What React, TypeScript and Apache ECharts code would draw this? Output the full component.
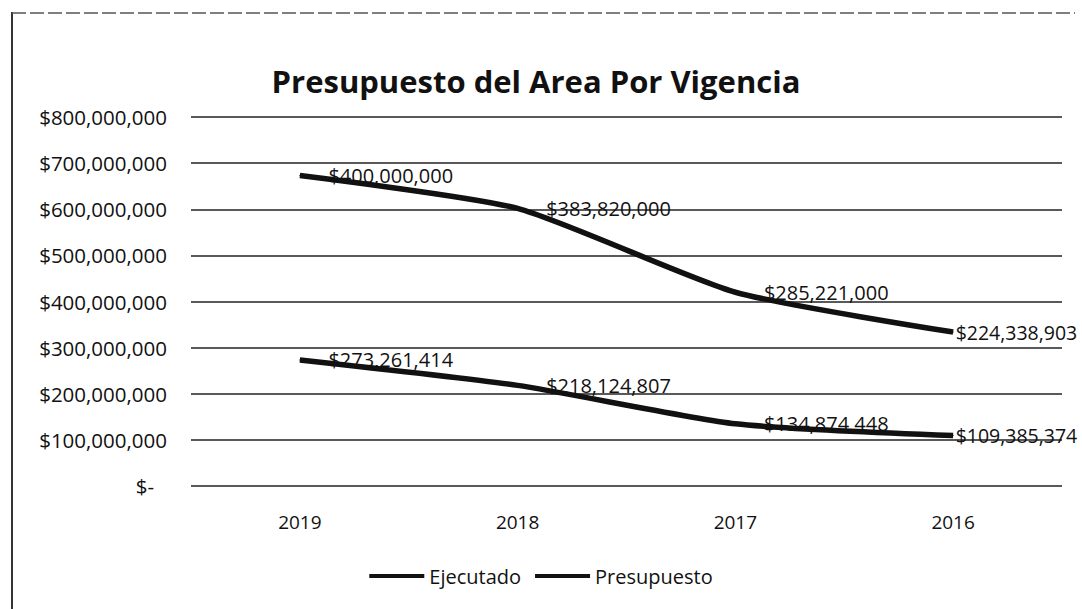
import React, { useEffect, useRef } from "react";
import * as echarts from "echarts";

const title = "Presupuesto del Area Por Vigencia";
const categories = ["2019", "2018", "2017", "2016"];
const ejecutado = [273261414, 218124807, 134874448, 109385374];
const presupuesto = [400000000, 383820000, 285221000, 224338903];
const seriesNames = ["Ejecutado", "Presupuesto"];
const yMax = 800000000;
const yInterval = 100000000;

const FONT = "'Open Sans', 'Noto Sans', sans-serif";
const fmtMoney = (v: number) => "$" + Math.round(v).toLocaleString("en-US");

export default function App() {
  const ref = useRef<HTMLDivElement>(null);
  useEffect(() => {
    if (!ref.current) return;
    const chart = echarts.init(ref.current, null, { renderer: "svg" });
    const lineColor = "#111111";
    const label = {
      show: true,
      position: "right" as const,
      distance: 28,
      color: "#111",
      fontFamily: FONT,
      fontSize: 20,
      formatter: (p: any) => fmtMoney(p.value),
    };
    // last point's label sits tight against the point (kept inside the chart, as Excel does)
    const withLabels = (arr: number[]) =>
      arr.map((v, i) =>
        i === arr.length - 1 ? { value: v, label: { distance: 2, fontSize: 19.5 } } : v
      );
    chart.setOption({
      animation: false,
      backgroundColor: "#ffffff",
      title: {
        text: title,
        left: 531,
        textAlign: "center",
        top: 60,
        textStyle: { fontFamily: FONT, fontSize: 31, fontWeight: "bold", color: "#111" },
      },
      legend: {
        data: seriesNames,
        bottom: 18,
        left: "center",
        icon: "rect",
        itemWidth: 55,
        itemHeight: 4,
        itemGap: 14,
        textStyle: { fontFamily: FONT, fontSize: 20, color: "#111" },
      },
      grid: { left: 191, right: 20, top: 117, bottom: 123, containLabel: false },
      xAxis: {
        type: "category",
        data: categories,
        boundaryGap: true,
        axisLine: { show: false },
        axisTick: { show: false },
        axisLabel: { fontFamily: FONT, fontSize: 19, color: "#111", margin: 26 },
      },
      yAxis: {
        type: "value",
        min: 0,
        max: yMax,
        interval: yInterval,
        axisLine: { show: false },
        axisTick: { show: false },
        splitLine: { lineStyle: { color: "#222", width: 1.5 } },
        axisLabel: {
          fontFamily: FONT,
          fontSize: 20.5,
          color: "#111",
          margin: 24,
          formatter: (v: number) => (v === 0 ? "{z|$-}" : fmtMoney(v)),
          rich: { z: { fontFamily: FONT, fontSize: 20.5, color: "#111", padding: [0, 13, 0, 0] } },
        },
      },
      graphic: [
        { type: "line", shape: { x1: 12, y1: 12, x2: 12, y2: 609 }, style: { stroke: "#333", lineWidth: 2 } },
        {
          type: "line",
          shape: { x1: 12, y1: 13, x2: 1075, y2: 13 },
          style: { stroke: "#555", lineWidth: 1.5, lineDash: [14, 4] },
        },
      ],
      series: [
        {
          name: seriesNames[0],
          type: "line",
          stack: "total",
          data: withLabels(ejecutado),
          smooth: 0.2,
          symbol: "circle",
          symbolSize: 1,
          color: lineColor,
          lineStyle: { width: 5.5, color: lineColor },
          itemStyle: { color: lineColor },
          label,
        },
        {
          name: seriesNames[1],
          type: "line",
          stack: "total",
          data: withLabels(presupuesto),
          smooth: 0.2,
          symbol: "circle",
          symbolSize: 1,
          color: lineColor,
          lineStyle: { width: 5.5, color: lineColor },
          itemStyle: { color: lineColor },
          label,
        },
      ],
    });
    return () => chart.dispose();
  }, []);
  return (
    <div
      ref={ref}
      style={{ position: "fixed", left: 0, top: 0, width: 1082, height: 609, background: "#fff" }}
    />
  );
}
